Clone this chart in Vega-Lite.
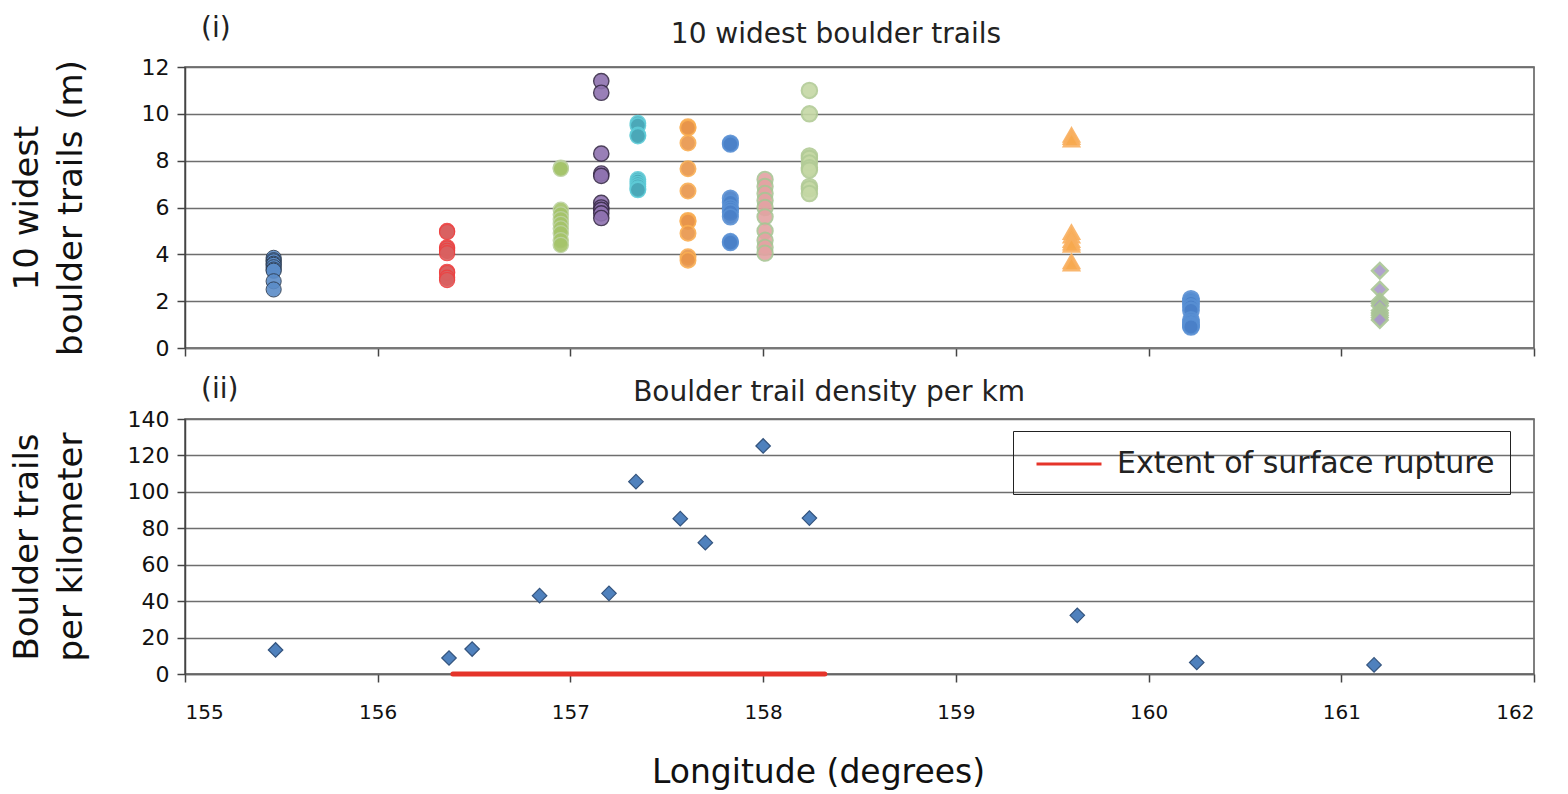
{
  "$schema": "https://vega.github.io/schema/vega-lite/v6.json",
  "padding": {"left": 9, "top": 14, "right": 20, "bottom": 0},
  "spacing": 15,
  "resolve": {"scale": {"color": "independent"}, "legend": {"color": "independent"}},
  "config": {
    "font": "DejaVu Sans",
    "view": {"stroke": "#555", "strokeWidth": 1.5},
    "axis": {"labelColor": "#111", "titleColor": "#111", "domainColor": "#444", "tickColor": "#444", "gridColor": "#6e6e6e", "gridWidth": 1.5, "domainWidth": 1.5, "tickWidth": 1.5, "tickSize": 8, "titleFontWeight": "normal", "labelOverlap": false}
  },
  "vconcat": [
    {
      "width": 1349,
      "height": 281,
      "layer": [
        {
          "data": {"values": [
            {"series": "s01", "lon": 155.46, "width": 3.85}, {"series": "s01", "lon": 155.46, "width": 3.75}, {"series": "s01", "lon": 155.46, "width": 3.7}, {"series": "s01", "lon": 155.46, "width": 3.6}, {"series": "s01", "lon": 155.46, "width": 3.55}, {"series": "s01", "lon": 155.46, "width": 3.45}, {"series": "s01", "lon": 155.46, "width": 3.35}, {"series": "s01", "lon": 155.46, "width": 3.3}, {"series": "s01", "lon": 155.46, "width": 2.85}, {"series": "s01", "lon": 155.46, "width": 2.5},
            {"series": "s02", "lon": 156.36, "width": 5.0}, {"series": "s02", "lon": 156.36, "width": 4.95}, {"series": "s02", "lon": 156.36, "width": 4.3}, {"series": "s02", "lon": 156.36, "width": 4.25}, {"series": "s02", "lon": 156.36, "width": 4.15}, {"series": "s02", "lon": 156.36, "width": 4.05}, {"series": "s02", "lon": 156.36, "width": 3.25}, {"series": "s02", "lon": 156.36, "width": 3.2}, {"series": "s02", "lon": 156.36, "width": 3.0}, {"series": "s02", "lon": 156.36, "width": 2.9},
            {"series": "s03", "lon": 156.95, "width": 7.7}, {"series": "s03", "lon": 156.95, "width": 7.65}, {"series": "s03", "lon": 156.95, "width": 5.9}, {"series": "s03", "lon": 156.95, "width": 5.7}, {"series": "s03", "lon": 156.95, "width": 5.5}, {"series": "s03", "lon": 156.95, "width": 5.3}, {"series": "s03", "lon": 156.95, "width": 5.1}, {"series": "s03", "lon": 156.95, "width": 4.9}, {"series": "s03", "lon": 156.95, "width": 4.6}, {"series": "s03", "lon": 156.95, "width": 4.4},
            {"series": "s04", "lon": 157.16, "width": 11.4}, {"series": "s04", "lon": 157.16, "width": 10.9}, {"series": "s04", "lon": 157.16, "width": 8.3}, {"series": "s04", "lon": 157.16, "width": 7.45}, {"series": "s04", "lon": 157.16, "width": 7.35}, {"series": "s04", "lon": 157.16, "width": 6.2}, {"series": "s04", "lon": 157.16, "width": 6.0}, {"series": "s04", "lon": 157.16, "width": 5.9}, {"series": "s04", "lon": 157.16, "width": 5.75}, {"series": "s04", "lon": 157.16, "width": 5.55},
            {"series": "s05", "lon": 157.35, "width": 9.6}, {"series": "s05", "lon": 157.35, "width": 9.5}, {"series": "s05", "lon": 157.35, "width": 9.1}, {"series": "s05", "lon": 157.35, "width": 9.05}, {"series": "s05", "lon": 157.35, "width": 7.2}, {"series": "s05", "lon": 157.35, "width": 7.1}, {"series": "s05", "lon": 157.35, "width": 7.0}, {"series": "s05", "lon": 157.35, "width": 6.9}, {"series": "s05", "lon": 157.35, "width": 6.8}, {"series": "s05", "lon": 157.35, "width": 6.75},
            {"series": "s06", "lon": 157.61, "width": 9.45}, {"series": "s06", "lon": 157.61, "width": 9.4}, {"series": "s06", "lon": 157.61, "width": 8.75}, {"series": "s06", "lon": 157.61, "width": 7.65}, {"series": "s06", "lon": 157.61, "width": 6.7}, {"series": "s06", "lon": 157.61, "width": 5.45}, {"series": "s06", "lon": 157.61, "width": 5.4}, {"series": "s06", "lon": 157.61, "width": 4.9}, {"series": "s06", "lon": 157.61, "width": 3.9}, {"series": "s06", "lon": 157.61, "width": 3.75},
            {"series": "s07", "lon": 157.83, "width": 8.75}, {"series": "s07", "lon": 157.83, "width": 8.7}, {"series": "s07", "lon": 157.83, "width": 6.4}, {"series": "s07", "lon": 157.83, "width": 6.2}, {"series": "s07", "lon": 157.83, "width": 6.0}, {"series": "s07", "lon": 157.83, "width": 5.9}, {"series": "s07", "lon": 157.83, "width": 5.8}, {"series": "s07", "lon": 157.83, "width": 5.6}, {"series": "s07", "lon": 157.83, "width": 4.55}, {"series": "s07", "lon": 157.83, "width": 4.5},
            {"series": "s08", "lon": 158.01, "width": 7.2}, {"series": "s08", "lon": 158.01, "width": 6.9}, {"series": "s08", "lon": 158.01, "width": 6.6}, {"series": "s08", "lon": 158.01, "width": 6.3}, {"series": "s08", "lon": 158.01, "width": 6.0}, {"series": "s08", "lon": 158.01, "width": 5.6}, {"series": "s08", "lon": 158.01, "width": 5.0}, {"series": "s08", "lon": 158.01, "width": 4.6}, {"series": "s08", "lon": 158.01, "width": 4.3}, {"series": "s08", "lon": 158.01, "width": 4.05},
            {"series": "s09", "lon": 158.24, "width": 11.0}, {"series": "s09", "lon": 158.24, "width": 10.0}, {"series": "s09", "lon": 158.24, "width": 8.2}, {"series": "s09", "lon": 158.24, "width": 8.1}, {"series": "s09", "lon": 158.24, "width": 7.9}, {"series": "s09", "lon": 158.24, "width": 7.7}, {"series": "s09", "lon": 158.24, "width": 7.6}, {"series": "s09", "lon": 158.24, "width": 6.9}, {"series": "s09", "lon": 158.24, "width": 6.8}, {"series": "s09", "lon": 158.24, "width": 6.6},
            {"series": "s10", "lon": 159.6, "width": 9.1}, {"series": "s10", "lon": 159.6, "width": 9.0}, {"series": "s10", "lon": 159.6, "width": 8.9}, {"series": "s10", "lon": 159.6, "width": 4.95}, {"series": "s10", "lon": 159.6, "width": 4.8}, {"series": "s10", "lon": 159.6, "width": 4.6}, {"series": "s10", "lon": 159.6, "width": 4.5}, {"series": "s10", "lon": 159.6, "width": 4.4}, {"series": "s10", "lon": 159.6, "width": 3.7}, {"series": "s10", "lon": 159.6, "width": 3.6},
            {"series": "s11", "lon": 160.22, "width": 2.1}, {"series": "s11", "lon": 160.22, "width": 2.0}, {"series": "s11", "lon": 160.22, "width": 1.9}, {"series": "s11", "lon": 160.22, "width": 1.75}, {"series": "s11", "lon": 160.22, "width": 1.6}, {"series": "s11", "lon": 160.22, "width": 1.2}, {"series": "s11", "lon": 160.22, "width": 1.1}, {"series": "s11", "lon": 160.22, "width": 1.0}, {"series": "s11", "lon": 160.22, "width": 0.95}, {"series": "s11", "lon": 160.22, "width": 0.9},
            {"series": "s12", "lon": 161.2, "width": 3.3}, {"series": "s12", "lon": 161.2, "width": 2.5}, {"series": "s12", "lon": 161.2, "width": 2.0}, {"series": "s12", "lon": 161.2, "width": 1.9}, {"series": "s12", "lon": 161.2, "width": 1.8}, {"series": "s12", "lon": 161.2, "width": 1.6}, {"series": "s12", "lon": 161.2, "width": 1.5}, {"series": "s12", "lon": 161.2, "width": 1.4}, {"series": "s12", "lon": 161.2, "width": 1.3}, {"series": "s12", "lon": 161.2, "width": 1.2}
          ]},
          "mark": {"type": "point", "filled": true, "opacity": 0.9},
          "encoding": {
            "x": {"field": "lon", "type": "quantitative", "scale": {"domain": [155, 162], "nice": false, "zero": false},
                  "axis": {"labels": false, "title": null, "grid": false, "values": [155, 156, 157, 158, 159, 160, 161, 162], "domainColor": "#777"}},
            "y": {"field": "width", "type": "quantitative", "scale": {"domain": [0, 12], "nice": false},
                  "axis": {"values": [0, 2, 4, 6, 8, 10, 12], "labelFontSize": 22, "labelPadding": 8, "title": ["10 widest", "boulder trails (m)"], "titleFontSize": 34, "titleLineHeight": 44, "titlePadding": 53}},
            "fill": {"field": "series", "type": "nominal", "legend": null,
                     "scale": {"domain": ["s01","s02","s03","s04","s05","s06","s07","s08","s09","s10","s11","s12"],
                               "range": ["#5B8CC8","#D96060","#A5C46A","#8F72B0","#4AA8B8","#E8954A","#4A80C8","#E3A3A3","#C5D8A5","#F7A94E","#4A80C8","#A898C8"]}},
            "stroke": {"field": "series", "type": "nominal", "legend": null,
                       "scale": {"domain": ["s01","s02","s03","s04","s05","s06","s07","s08","s09","s10","s11","s12"],
                                 "range": ["#2E3D52","#EE4040","#BDD2A2","#3A2D4A","#5FCCD8","#FAAE52","#5990D4","#A9C595","#B2CB96","#F9B060","#5990D4","#A9C595"]}},
            "strokeWidth": {"field": "series", "type": "ordinal", "legend": null,
                       "scale": {"domain": ["s01","s02","s03","s04","s05","s06","s07","s08","s09","s10","s11","s12"],
                                 "range": [1, 2.5, 2.5, 1, 2.5, 2.5, 2.5, 2.5, 2.5, 2, 2.5, 4.5]}},
            "size": {"field": "series", "type": "ordinal", "legend": null,
                       "scale": {"domain": ["s01","s02","s03","s04","s05","s06","s07","s08","s09","s10","s11","s12"],
                                 "range": [230, 240, 240, 230, 240, 240, 240, 240, 240, 240, 240, 200]}},
            "shape": {"field": "series", "type": "nominal", "legend": null,
                      "scale": {"domain": ["s01","s02","s03","s04","s05","s06","s07","s08","s09","s10","s11","s12"],
                                "range": ["circle","circle","circle","circle","circle","circle","circle","circle","circle","triangle-up","circle","diamond"]}}
          }
        },
        {
          "data": {"values": [{"label": "(i)", "lon": 155.16, "pos": 13.62}, {"label": "10 widest boulder trails", "lon": 158.378, "pos": 13.37}]},
          "mark": {"type": "text", "fontSize": 28, "color": "#222", "baseline": "middle", "align": "center"},
          "encoding": {"x": {"field": "lon", "type": "quantitative"}, "y": {"field": "pos", "type": "quantitative"}, "text": {"field": "label"}}
        }
      ]
    },
    {
      "width": 1349,
      "height": 255,
      "layer": [
        {
          "data": {"values": [
            {"lon": 155.47, "density": 13.2}, {"lon": 156.37, "density": 8.8}, {"lon": 156.49, "density": 13.7},
            {"lon": 156.84, "density": 43.0}, {"lon": 157.2, "density": 44.3}, {"lon": 157.34, "density": 105.6},
            {"lon": 157.57, "density": 85.3}, {"lon": 157.7, "density": 72.1}, {"lon": 158.0, "density": 125.2},
            {"lon": 158.24, "density": 85.6}, {"lon": 159.63, "density": 32.2}, {"lon": 160.25, "density": 6.3},
            {"lon": 161.17, "density": 5.0}
          ]},
          "mark": {"type": "point", "shape": "diamond", "filled": true, "size": 210, "fill": "#4F81BD", "stroke": "#34547E", "strokeWidth": 1.2, "opacity": 1},
          "encoding": {
            "x": {"field": "lon", "type": "quantitative", "scale": {"domain": [155, 162], "nice": false, "zero": false},
                  "axis": {"values": [155, 156, 157, 158, 159, 160, 161, 162], "format": "d", "grid": false, "labelFontSize": 20, "labelPadding": 20, "title": "Longitude (degrees)", "titleFontSize": 33, "titlePadding": 34, "titleX": 633, "domainColor": "#666"}},
            "y": {"field": "density", "type": "quantitative", "scale": {"domain": [0, 140], "nice": false},
                  "axis": {"values": [0, 20, 40, 60, 80, 100, 120, 140], "labelFontSize": 22, "labelPadding": 8, "title": ["Boulder trails", "per kilometer"], "titleFontSize": 34, "titleLineHeight": 44, "titlePadding": 39}}
          }
        },
        {
          "data": {"values": [{"label": "Extent of surface rupture", "start": 156.39, "end": 158.32}]},
          "mark": {"type": "rule", "strokeWidth": 5, "strokeCap": "round"},
          "encoding": {
            "x": {"field": "start", "type": "quantitative"},
            "x2": {"field": "end"},
            "y": {"datum": 0, "type": "quantitative",
                  "axis": {"values": [0, 20, 40, 60, 80, 100, 120, 140], "labelFontSize": 22, "labelPadding": 8, "title": ["Boulder trails", "per kilometer"], "titleFontSize": 34, "titleLineHeight": 44, "titlePadding": 39}},
            "color": {"field": "label", "type": "nominal", "scale": {"range": ["#E5342A"]},
                      "legend": {"title": null, "orient": "none", "legendX": 828, "legendY": 12, "padding": 15, "strokeColor": "#222", "symbolType": "M-2,0H2", "symbolSize": 1056, "symbolOffset": 23, "symbolStrokeWidth": 3, "labelFontSize": 30, "labelOffset": 30, "labelLimit": 600, "labelColor": "#222"}}
          }
        },
        {
          "data": {"values": [{"label": "(ii)", "lon": 155.18, "pos": 156}, {"label": "Boulder trail density per km", "lon": 158.342, "pos": 154.3}]},
          "mark": {"type": "text", "fontSize": 28, "color": "#222", "baseline": "middle", "align": "center"},
          "encoding": {"x": {"field": "lon", "type": "quantitative"},
                       "y": {"field": "pos", "type": "quantitative",
                             "axis": {"values": [0, 20, 40, 60, 80, 100, 120, 140], "labelFontSize": 22, "labelPadding": 8, "title": ["Boulder trails", "per kilometer"], "titleFontSize": 34, "titleLineHeight": 44, "titlePadding": 39}},
                       "text": {"field": "label"}}
        }
      ]
    }
  ]
}
